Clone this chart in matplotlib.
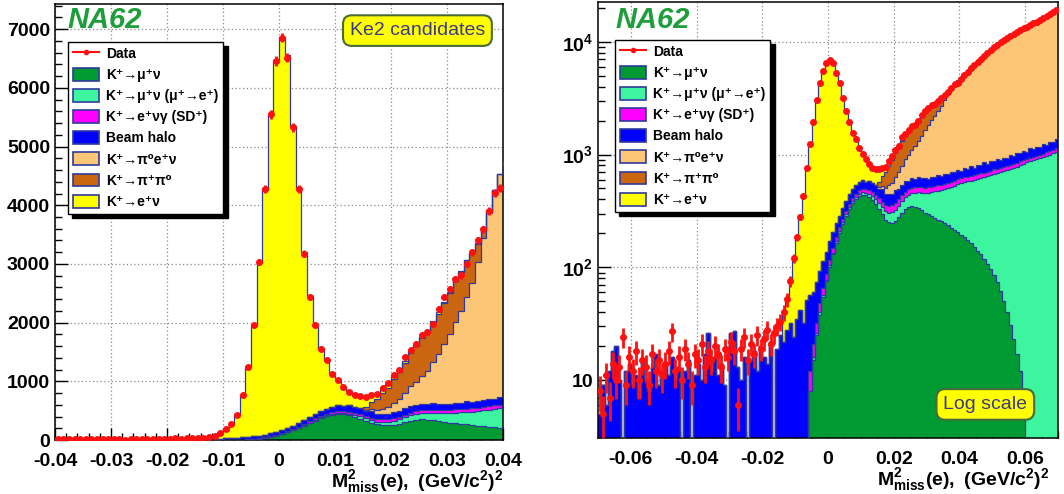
import numpy as np
import matplotlib
matplotlib.use("Agg")
import matplotlib.pyplot as plt
from matplotlib.patches import Patch
from matplotlib.lines import Line2D
from matplotlib.ticker import MultipleLocator, FixedLocator, FuncFormatter, LogLocator, NullFormatter

plt.rcParams['font.family'] = ['Liberation Sans', 'DejaVu Sans']
plt.rcParams['font.weight'] = 'bold'
plt.rcParams['mathtext.fontset'] = 'custom'
plt.rcParams['mathtext.rm'] = 'Liberation Sans'
plt.rcParams['mathtext.bf'] = 'Liberation Sans:bold'
plt.rcParams['mathtext.it'] = 'Liberation Sans:italic'
plt.rcParams['axes.unicode_minus'] = False
plt.rcParams['xtick.major.pad'] = 9

# ---------------- binning (M2miss, (GeV/c2)^2) ----------------
BIN_LO, BIN_HI, NBINS = -0.07, 0.07, 140
edges = np.linspace(BIN_LO, BIN_HI, NBINS + 1)
centers = 0.5 * (edges[:-1] + edges[1:])

# ---------------- data (events / bin) ----------------
data = [
    8, 5, 11, 7, 14, 10, 13, 24, 9, 16,
    12, 18, 10, 15, 13, 9, 17, 12, 15, 11,
    14, 18, 27, 12, 16, 10, 19, 14, 9, 17,
    15, 21, 13, 18, 15, 20, 17, 13, 19, 16,
    22, 18, 6, 19, 24, 15, 21, 17, 25, 19,
    23, 28, 21, 26, 30, 33, 40, 52, 75, 120,
    185, 280, 430, 765, 1245, 1955, 3030, 4278, 5553, 6460,
    6857, 6517, 5327, 4278, 3173, 2437, 1955, 1558, 1360, 1133,
    1020, 907, 822, 765, 745, 737, 765, 782, 878, 963,
    1105, 1190, 1417, 1530, 1643, 1785, 1842, 1983, 2238, 2437,
    2578, 2748, 2805, 3003, 3200, 3400, 3590, 3900, 4210, 4300,
    4700, 5050, 5420, 5800, 6230, 6650, 7100, 7540, 8010, 8450,
    8930, 9380, 9860, 10300, 10790, 11250, 11700, 12180, 12640, 13100,
    13600, 14080, 14590, 15100, 15620, 16200, 16850, 17550, 18300, 19300,
]

# ---------------- MC components (stacked, bottom to top) ----------------
kmu2 = [0] * 64 + [
    8, 15, 25, 38, 55, 75,
    100, 130, 165, 200, 240, 285, 330, 370, 405, 430,
    440, 435, 420, 395, 365, 330, 295, 265, 250, 248,
    258, 280, 305, 330, 345, 350, 345, 335, 320, 305,
    295, 285, 275, 265, 255, 245, 235, 225, 215, 205,
    195, 185, 174, 163, 152, 141, 130, 119, 108, 97,
    86, 74, 62, 50, 40, 31, 23, 17, 12, 7,
] + [0] * 10

kmu2_mue = [0] * 64 + [
    0, 1, 1, 2, 2, 3,
    4, 5, 6, 8, 10, 12, 14, 16, 18, 20,
    22, 25, 28, 32, 36, 40, 45, 50, 55, 60,
    66, 72, 80, 88, 96, 105, 115, 126, 138, 150,
    165, 180, 196, 213, 230, 250, 270, 292, 315, 340,
    365, 385, 405, 425, 448, 470, 490, 510, 535, 560,
    590, 610, 635, 660, 690, 715, 740, 765, 795, 820,
    850, 870, 890, 910, 930, 950, 975, 1000, 1030, 1060,
]

ke2g_sd = [0] * 62 + [
    2, 3, 4, 5, 6, 8, 9, 10,
    12, 14, 16, 18, 20, 22, 24, 26, 28, 30,
    32, 34, 36, 38, 40, 40, 42, 44, 45, 46,
    47, 48, 49, 50, 50, 51, 52, 52, 53, 54,
    54, 55, 55, 56, 56, 57, 57, 58, 58, 58,
    58, 59, 59, 60, 60, 61, 61, 62, 62, 63,
    63, 64, 64, 65, 65, 66, 66, 67, 67, 68,
    68, 69, 69, 70, 70, 71, 71, 72, 72, 73,
]

beam_halo = [
    5, 9, 6, 12, 18, 20, 10, 0, 12, 14,
    9, 11, 7, 15, 10, 8, 13, 17, 9, 12,
    14, 11, 16, 10, 13, 0, 12, 15, 0, 11,
    14, 10, 17, 26, 12, 16, 11, 14, 9, 0,
    26, 27, 13, 10, 16, 0, 15, 18, 12, 20,
    16, 14, 22, 0, 19, 25, 22, 28, 32, 24,
    35, 42, 30, 48, 45, 40, 42, 45, 48, 50,
    55, 55, 60, 62, 65, 70, 75, 80, 85, 90,
    95, 82, 104, 90, 99, 86, 108, 92, 101, 95,
    110, 94, 104, 118, 97, 109, 100, 121, 103, 112,
    96, 118, 108, 125, 101, 119, 112, 130, 106, 125,
    95, 130, 110, 150, 105, 140, 120, 165, 115, 150,
    130, 170, 125, 160, 140, 185, 135, 175, 150, 190,
    145, 200, 160, 185, 175, 210, 165, 220, 190, 230,
]

ke3 = [0] * 85 + [
    20, 35, 55, 85, 115,
    155, 200, 260, 330, 400, 480, 570, 690, 850, 1020,
    1200, 1380, 1560, 1780, 2040, 2370, 2770, 3170, 3560, 3800,
    3960, 4270, 4660, 5000, 5460, 5840, 6300, 6680, 7190, 7580,
    8060, 8460, 8970, 9370, 9860, 10250, 10740, 11160, 11620, 12020,
    12540, 12940, 13470, 13940, 14450, 14970, 15640, 16260, 17010, 17940,
]

kpi2 = [0] * 85 + [
    50, 120, 190, 260, 330,
    400, 460, 520, 570, 610, 640, 660, 680, 690, 700,
    700, 690, 670, 620, 500, 300, 120, 30,
] + [0] * 32

ke2 = [0] * 56 + [
    18, 26, 45, 95,
    150, 240, 400, 715, 1190, 1900, 2960, 4190, 5440, 6330,
    6700, 6350, 5100, 4010, 2870, 2070, 1520, 1080, 830, 570,
    440, 330, 250, 215, 205, 165, 130, 95, 75, 60,
    50, 42, 36, 32, 28, 25, 22, 20, 20, 18,
    17, 16, 15, 14, 13, 12, 11, 10, 10, 9,
    8, 7, 6, 5, 4,
] + [0] * 25

labels = ["Data",
          "K⁺→μ⁺ν",
          "K⁺→μ⁺ν (μ⁺→e⁺)",
          "K⁺→e⁺νγ (SD⁺)",
          "Beam halo",
          "K⁺→π⁰e⁺ν",
          "K⁺→π⁺π⁰",
          "K⁺→e⁺ν"]

components = [kmu2, kmu2_mue, ke2g_sd, beam_halo, ke3, kpi2, ke2]
colors = ['#009a33', '#3cf59e', '#ff00ff', '#0000ff', '#fdc676', '#c9660f', '#ffff00']
OUTLINE = '#2f3a9c'


def draw_stack(ax, floor):
    base = np.zeros(NBINS)
    tops = []
    for vals, col in zip(components, colors):
        top = base + np.asarray(vals, float)
        ax.stairs(np.maximum(top, floor), edges, baseline=np.maximum(base, floor),
                  fill=True, color=col, lw=0, zorder=2)
        tops.append(top)
        base = top
    for top in tops:
        ax.stairs(np.maximum(top, floor), edges, baseline=None, color=OUTLINE,
                  lw=0.9, zorder=3)
    d = np.asarray(data, float)
    ax.errorbar(centers, d, xerr=0.0005, yerr=np.sqrt(d), fmt='o', color='#ff1010',
                ms=4, elinewidth=2.0, capsize=0, zorder=5)


def style_axes(ax):
    ax.set_axisbelow(True)
    ax.grid(True, which='major', linestyle=(0, (1, 2)), color='#8a8a8a', lw=0.9)
    ax.tick_params(which='both', direction='in', top=False, right=False,
                   labelsize=14, width=1)
    ax.tick_params(which='major', length=9)
    ax.tick_params(which='minor', length=5)
    for s in ax.spines.values():
        s.set_linewidth(1.1)


def add_legend(ax, x0, y0):
    handles = [Line2D([], [], color='#ff1010', marker='o', ms=3, lw=1.5)] + \
              [Patch(facecolor=c, edgecolor=OUTLINE, lw=1.2) for c in colors]
    leg = ax.legend(handles, labels, loc='upper left', bbox_to_anchor=(x0, y0),
                    borderaxespad=0, frameon=True, fancybox=False,
                    shadow={'ox': 3, 'oy': -3, 'facecolor': 'black',
                            'edgecolor': 'black', 'alpha': 1},
                    edgecolor='black', framealpha=1,
                    prop={'weight': 'bold', 'size': 10},
                    handlelength=1.9, handleheight=1.05, labelspacing=0.5,
                    borderpad=0.35, handletextpad=0.5)
    leg.get_frame().set_linewidth(1.0)
    leg.set_zorder(10)


def fmt(v, pos):
    if abs(v) < 1e-12:
        return '0'
    return '%g' % v


XLABEL = r'$\mathbf{M^{2}_{miss}(e),\ (GeV/c^{2})^{2}}$'

fig = plt.figure(figsize=(10.64, 4.94), dpi=100)

# ---------------- left: linear ----------------
axL = fig.add_axes([55 / 1064, 54 / 494, 448 / 1064, 436 / 494])
draw_stack(axL, 0.0)
axL.set_xlim(-0.04, 0.04)
axL.set_ylim(0, 7430)
axL.xaxis.set_major_locator(MultipleLocator(0.01))
axL.xaxis.set_minor_locator(MultipleLocator(0.002))
axL.yaxis.set_major_locator(MultipleLocator(1000))
axL.yaxis.set_minor_locator(MultipleLocator(200))
axL.xaxis.set_major_formatter(FuncFormatter(fmt))
style_axes(axL)
add_legend(axL, 0.029, 0.913)
axL.text(0.027, 0.995, 'NA62', transform=axL.transAxes, ha='left', va='top',
         fontsize=21, fontweight='bold', fontstyle='italic', color='#1e9e3a', zorder=11)
axL.text(0.809, 0.939, 'Ke2 candidates', transform=axL.transAxes, ha='center', va='center',
         fontsize=14, fontweight='normal', color='#3a3a8c', zorder=11,
         bbox=dict(boxstyle='round,pad=0.35,rounding_size=0.45', fc='#ffff00',
                   ec='#4a6a3a', lw=1.5))
axL.text(1.0, -0.064, XLABEL, transform=axL.transAxes, ha='right', va='top', fontsize=14)

# ---------------- right: log ----------------
axR = fig.add_axes([598 / 1064, 56 / 494, 460 / 1064, 436 / 494])
draw_stack(axR, 0.1)
axR.set_yscale('log')
axR.set_xlim(-0.07, 0.07)
axR.set_ylim(3.07, 22500)
axR.xaxis.set_major_locator(MultipleLocator(0.02))
axR.xaxis.set_minor_locator(MultipleLocator(0.005))
axR.xaxis.set_major_formatter(FuncFormatter(fmt))
axR.yaxis.set_major_locator(FixedLocator([10, 100, 1000, 10000]))
axR.yaxis.set_minor_locator(LogLocator(base=10, subs=np.arange(2, 10)))
axR.yaxis.set_minor_formatter(NullFormatter())
axR.set_yticklabels(['10', r'$\mathbf{10^{2}}$', r'$\mathbf{10^{3}}$', r'$\mathbf{10^{4}}$'])
style_axes(axR)
add_legend(axR, 0.037, 0.913)
axR.text(0.037, 0.99, 'NA62', transform=axR.transAxes, ha='left', va='top',
         fontsize=21, fontweight='bold', fontstyle='italic', color='#1e9e3a', zorder=11)
axR.text(0.842, 0.077, 'Log scale', transform=axR.transAxes, ha='center', va='center',
         fontsize=14, fontweight='normal', color='#3a3a8c', zorder=11,
         bbox=dict(boxstyle='round,pad=0.35,rounding_size=0.45', fc='#ffff00',
                   ec='#4a6a3a', lw=1.5))
axR.text(0.98, -0.064, XLABEL, transform=axR.transAxes, ha='right', va='top', fontsize=14)

fig.canvas.draw()
for ax in (axL, axR):
    for lab in ax.get_xticklabels() + ax.get_yticklabels():
        lab.set_fontweight('bold')

fig.savefig('out.png', dpi=100)
